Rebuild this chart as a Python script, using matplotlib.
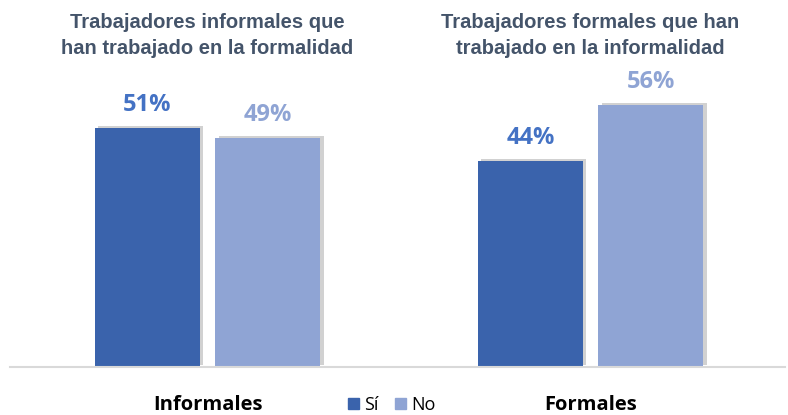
import matplotlib.pyplot as plt
import matplotlib.patheffects as pe
import matplotlib.patches as mpatches
import numpy as np

categories = ["Informales", "Formales"]
series = ["Sí", "No"]
si_vals = [51, 44]
no_vals = [49, 56]
titles = ["Trabajadores informales que\nhan trabajado en la formalidad",
          "Trabajadores formales que han\ntrabajado en la informalidad"]

c_si = "#3A63AC"
c_no = "#8FA4D4"
c_si_lbl = "#4472C4"
c_no_lbl = "#8FA4D4"
c_title = "#44546A"

fig = plt.figure(figsize=(7.88, 4.15), dpi=100)
ax = fig.add_axes([10 / 788, 48 / 415, 775 / 788, 367 / 415])

x = np.arange(len(categories))
w = 0.274
off = 0.157
shadow = [pe.SimplePatchShadow(offset=(2.5, 1.5), shadow_rgbFace="#8c8c8c", alpha=0.4), pe.Normal()]

b1 = ax.bar(x - off, si_vals, w, color=c_si, path_effects=shadow)
b2 = ax.bar(x + off, no_vals, w, color=c_no, path_effects=shadow)

for bars, col in [(b1, c_si_lbl), (b2, c_no_lbl)]:
    for b in bars:
        ax.annotate(f"{b.get_height():.0f}%", (b.get_x() + b.get_width() / 2, b.get_height()),
                    xytext=(0, 8), textcoords="offset points", ha="center", va="bottom",
                    fontsize=17, fontweight="bold", color=col, family="Open Sans")

for i, t in enumerate(titles):
    ax.text(x[i], 1.0 - 13 / 367, t, transform=ax.get_xaxis_transform(), ha="center", va="top",
            fontsize=14.5, fontweight="bold", color=c_title, family="Liberation Sans",
            linespacing=1.5)

ax.set_xlim(-0.516, 1.508)
ax.set_ylim(0, 78.4)
ax.set_xticks(x)
ax.set_xticklabels(categories, fontsize=14.5, fontweight="bold", family="Open Sans", color="#000000")
ax.tick_params(axis="x", length=0, pad=20)
ax.set_yticks([])
for s in ["top", "left", "right"]:
    ax.spines[s].set_visible(False)
ax.spines["bottom"].set_color("#D9D9D9")
ax.spines["bottom"].set_linewidth(1.5)

handles = [mpatches.Patch(color=c_si, label=series[0]),
           mpatches.Patch(color=c_no, label=series[1])]
fig.legend(handles=handles, loc="lower center", bbox_to_anchor=(392 / 788, 0.0), ncol=2,
           frameon=False, handlelength=0.6, handleheight=0.6, handletextpad=0.3,
           columnspacing=0.9, borderpad=0.05, borderaxespad=0.0,
           prop={"family": "Open Sans", "size": 13})

fig.savefig("out.png", dpi=100)
